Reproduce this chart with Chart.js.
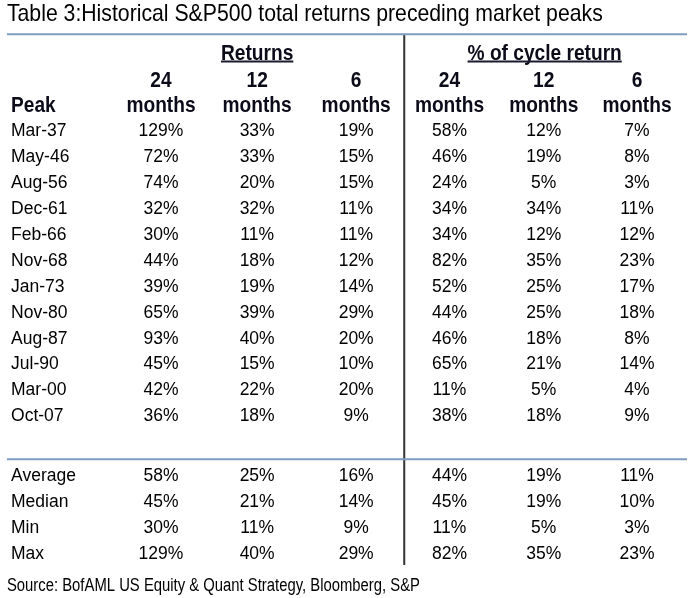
<!DOCTYPE html>
<html>
<head>
<meta charset="utf-8">
<script src="https://cdn.jsdelivr.net/npm/chart.js@4.4.1/dist/chart.umd.min.js"></script>
<style>
  html, body { margin: 0; padding: 0; background: #fff; }
  #wrap { width: 699px; height: 598px; position: relative; }
</style>
</head>
<body>
<div id="wrap"><canvas id="tbl"></canvas></div>
<script>
// ===== DATA =====
const titleText = "Table 3:Historical S&P500 total returns preceding market peaks";
const sourceText = "Source: BofAML US Equity & Quant Strategy, Bloomberg, S&P";
const rowHeader = "Peak";
const groupTitles = ["Returns", "% of cycle return"];
const periodLabels = ["24", "12", "6", "24", "12", "6"];
const periodUnit = "months";

const peaks = ["Mar-37", "May-46", "Aug-56", "Dec-61", "Feb-66", "Nov-68",
               "Jan-73", "Nov-80", "Aug-87", "Jul-90", "Mar-00", "Oct-07"];
const ret24 = [129, 72, 74, 32, 30, 44, 39, 65, 93, 45, 42, 36];
const ret12 = [33, 33, 20, 32, 11, 18, 19, 39, 40, 15, 22, 18];
const ret6  = [19, 15, 15, 11, 11, 12, 14, 29, 20, 10, 20, 9];
const cyc24 = [58, 46, 24, 34, 34, 82, 52, 44, 46, 65, 11, 38];
const cyc12 = [12, 19, 5, 34, 12, 35, 25, 25, 18, 21, 5, 18];
const cyc6  = [7, 8, 3, 11, 12, 23, 17, 18, 8, 14, 4, 9];

const summaryLabels = ["Average", "Median", "Min", "Max"];
const sumRet24 = [58, 45, 30, 129];
const sumRet12 = [25, 21, 11, 40];
const sumRet6  = [16, 14, 9, 29];
const sumCyc24 = [44, 45, 11, 82];
const sumCyc12 = [19, 19, 5, 35];
const sumCyc6  = [11, 10, 3, 23];

// ===== LAYOUT (in scale units: column index / row index) =====
const labelX = -0.575;                          // left edge of the Peak column
const colPos = [1, 2.01, 3.05, 4.03, 5.02, 6];  // column centres
const summaryStart = 13.3;                      // first summary row, after the gap
const colMain = [ret24, ret12, ret6, cyc24, cyc12, cyc6];
const colSum = [sumRet24, sumRet12, sumRet6, sumCyc24, sumCyc12, sumCyc6];

const FONT = "'Liberation Sans', Arial, Helvetica, sans-serif";
const INK = "#000";
const HEAD_INK = "#0b0b1a";

function cellData(col, main, sum) {
  const rows = main.map((v, i) => ({ x: col, y: i, t: v + "%" }));
  sum.forEach((v, j) => rows.push({ x: col, y: summaryStart + j, t: v + "%" }));
  return rows;
}

const textSets = [];
textSets.push({
  label: "rows",
  data: peaks.map((p, i) => ({ x: labelX, y: i, t: p }))
    .concat(summaryLabels.map((s, j) => ({ x: labelX, y: summaryStart + j, t: s }))),
  align: "left"
});
colMain.forEach((arr, k) => {
  textSets.push({ label: "c" + k, data: cellData(colPos[k], arr, colSum[k]), align: "center" });
});

// rule lines
const ruleColor = "#7f9dbf";
const rules = [
  { data: [{ x: -0.618, y: -3.74 }, { x: 6.525, y: -3.74 }], color: ruleColor, w: 2 },
  { data: [{ x: -0.618, y: 12.67 }, { x: 6.525, y: 12.67 }], color: ruleColor, w: 2 },
  { data: [{ x: 3.555, y: -3.72 }, { x: 3.555, y: 16.76 }], color: "#333", w: 2 }
];

const datasets = rules.map(r => ({
  type: "scatter", data: r.data, showLine: true, borderColor: r.color,
  borderWidth: r.w, pointRadius: 0, isText: false
})).concat(textSets.map(s => ({
  type: "scatter", label: s.label, data: s.data, pointRadius: 0,
  showLine: false, isText: true, textAlign: s.align
})));

// ===== TEXT PLUGIN =====
function drawText(ctx, text, x, y, font, align, sx, color) {
  ctx.save();
  ctx.font = font;
  ctx.fillStyle = color || INK;
  ctx.textAlign = align;
  ctx.textBaseline = "middle";
  ctx.translate(x, y);
  ctx.scale(sx, 1);
  ctx.fillText(text, 0, 0);
  ctx.restore();
}

function fitScale(ctx, text, font, width) {
  ctx.save();
  ctx.font = font;
  const w = ctx.measureText(text).width;
  ctx.restore();
  return width / w;
}

const tablePlugin = {
  id: "tableText",
  afterDatasetsDraw(chart) {
    const ctx = chart.ctx;
    const xs = chart.scales.x, ys = chart.scales.y;
    const bodyFont = "17.5px " + FONT;
    const headFont = "bold 22px " + FONT;
    const headSx = 0.87;

    // cells
    chart.data.datasets.forEach((ds, i) => {
      if (!ds.isText) return;
      const meta = chart.getDatasetMeta(i);
      meta.data.forEach((el, j) => {
        drawText(ctx, ds.data[j].t, el.x, el.y + 0.5, bodyFont, ds.textAlign, 1, INK);
      });
    });

    // title
    const titleFont = "24px " + FONT;
    const tx = xs.getPixelForValue(-0.618);
    const tw = xs.getPixelForValue(5.64) - tx;
    drawText(ctx, titleText, tx, ys.getPixelForValue(-4.5), titleFont, "left",
      fitScale(ctx, titleText, titleFont, tw), INK);

    // group headers with underline
    [[2.01, groupTitles[0]], [5.03, groupTitles[1]]].forEach(([cx, txt]) => {
      const px = xs.getPixelForValue(cx);
      const py = ys.getPixelForValue(-2.98);
      drawText(ctx, txt, px, py, headFont, "center", headSx, HEAD_INK);
      ctx.save();
      ctx.font = headFont;
      const w = ctx.measureText(txt).width * headSx;
      ctx.strokeStyle = "#1a1a2e";
      ctx.lineWidth = 2;
      const uy = ys.getPixelForValue(-2.68);
      ctx.beginPath();
      ctx.moveTo(px - w / 2, uy);
      ctx.lineTo(px + w / 2, uy);
      ctx.stroke();
      ctx.restore();
    });

    // period headers
    periodLabels.forEach((p, k) => {
      const px = xs.getPixelForValue(colPos[k]);
      drawText(ctx, p, px, ys.getPixelForValue(-1.95), headFont, "center", headSx, HEAD_INK);
      drawText(ctx, periodUnit, px, ys.getPixelForValue(-0.98), headFont, "center", headSx, HEAD_INK);
    });
    drawText(ctx, rowHeader, xs.getPixelForValue(labelX), ys.getPixelForValue(-0.98),
      headFont, "left", headSx, HEAD_INK);

    // source
    const srcFont = "18px " + FONT;
    const sx0 = xs.getPixelForValue(-0.618);
    const sw = xs.getPixelForValue(3.72) - sx0;
    drawText(ctx, sourceText, sx0, ys.getPixelForValue(17.58), srcFont, "left",
      fitScale(ctx, sourceText, srcFont, sw), INK);
  }
};

// ===== CHART =====
const ctx = document.getElementById("tbl").getContext("2d");
const tableChart = new Chart(ctx, {
  type: "scatter",
  data: { datasets: datasets },
  options: {
    responsive: true,
    maintainAspectRatio: false,
    animation: false,
    layout: { padding: 0 },
    plugins: { legend: { display: false }, tooltip: { enabled: false } },
    scales: {
      x: { type: "linear", min: -0.691, max: 6.651, display: false },
      y: { type: "linear", reverse: true, min: -5.058, max: 18.03, display: false }
    }
  },
  plugins: [tablePlugin]
});
</script>
</body>
</html>
